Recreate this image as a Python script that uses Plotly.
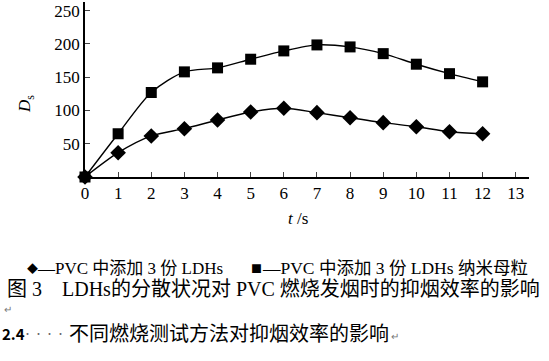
import plotly.graph_objects as go

t = [0, 1, 2, 3, 4, 5, 6, 7, 8, 9, 10, 11, 12]
ds_ldhs = [0, 36.5, 61.7, 72.6, 85.7, 97.7, 103.3, 96.7, 89, 81.7, 75.6, 68, 65]
ds_master = [0, 65, 127, 158, 164, 177, 189.5, 198.5, 195.5, 185.4, 169.5, 155.3, 143]
x_ticks = list(range(0, 14))
y_ticks = [50, 100, 150, 200, 250]

W, H = 549, 361
L, R, T, B = 85, 20, 2, 184
pw, ph = W - L - R, H - T - B

def px(x):
    return (x - L) / pw

def py(y):
    return (H - B - y) / ph

serif = "Liberation Serif, Times New Roman, Noto Sans CJK SC"
sans = "Noto Sans CJK SC, Noto Sans, sans-serif"

fig = go.Figure()
fig.add_trace(go.Scatter(x=t, y=ds_ldhs, mode="lines+markers", line=dict(color="black", width=1.4, shape="spline", smoothing=0.8),
                         marker=dict(symbol="diamond", size=12, color="black"), cliponaxis=False, showlegend=False))
fig.add_trace(go.Scatter(x=t, y=ds_master, mode="lines+markers", line=dict(color="black", width=1.4, shape="spline", smoothing=0.8),
                         marker=dict(symbol="square", size=11, color="black"), cliponaxis=False, showlegend=False))

fig.update_layout(
    width=W, height=H, margin=dict(l=L, r=R, t=T, b=B),
    paper_bgcolor="white", plot_bgcolor="white",
    font=dict(family=serif, color="black", size=17),
    xaxis=dict(range=[0, 13.4], tickvals=x_ticks, ticks="inside", ticklen=5, tickwidth=1.2,
               showline=True, linecolor="black", linewidth=1.5, showgrid=False, zeroline=False,
               tickfont=dict(family=serif, size=17)),
    yaxis=dict(range=[0, 263], tickvals=y_ticks, ticks="inside", ticklen=5, tickwidth=1.2,
               showline=True, linecolor="black", linewidth=1.5, showgrid=False, zeroline=False,
               tickfont=dict(family=serif, size=17)),
)

ann = [
    dict(x=298, y=218, text="<i>t</i> /s", size=17, font=serif, anchor="center"),
    dict(x=26, y=104, text="<i>D</i><sub>s</sub>", size=17, font=serif, angle=-90, anchor="center"),
    dict(x=25, y=268, text="◆", size=11, font=sans, anchor="left"),
    dict(x=35, y=268, text="—PVC 中添加 3 份 LDHs", size=17, font=serif, anchor="left"),
    dict(x=249, y=268, text="■", size=11, font=sans, anchor="left"),
    dict(x=260, y=268, text="—PVC 中添加 3 份 LDHs 纳米母粒", size=17.5, font=serif, anchor="left"),
    dict(x=5, y=289, text="图 3　LDHs的分散状况对 PVC 燃烧发烟时的抑烟效率的影响", size=20, font=serif, anchor="left"),
    dict(x=2, y=308, text="↵", size=10, font=sans, color="#777", anchor="left"),
    dict(x=0, y=333, text="<b>2.4</b>", size=15, font=sans, anchor="left"),
    dict(x=21, y=333, text="· · · ·", size=9, font=sans, color="#666", anchor="left"),
    dict(x=67, y=332, text="不同燃烧测试方法对抑烟效率的影响", size=20, font=sans, anchor="left"),
    dict(x=389, y=335, text="↵", size=10, font=sans, color="#777", anchor="left"),
]
for a in ann:
    fig.add_annotation(x=px(a["x"]), y=py(a["y"]), xref="paper", yref="paper", text=a["text"], showarrow=False,
                       xanchor=a["anchor"], yanchor="middle", textangle=a.get("angle", 0),
                       font=dict(family=a["font"], size=a["size"], color=a.get("color", "black")))

fig.write_html("out.html", config={"displayModeBar": False}, post_script="document.body.style.margin='0';")
